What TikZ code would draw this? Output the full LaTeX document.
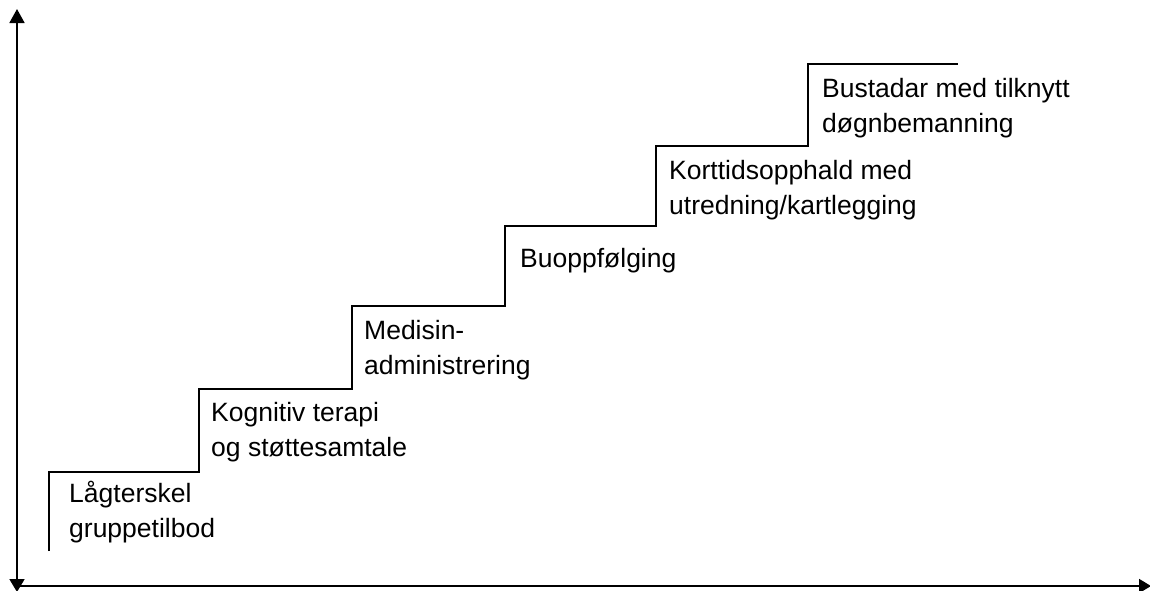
\documentclass[tikz,border=0pt]{standalone}
\usepackage{fontspec}
\setmainfont{Liberation Sans}
\usetikzlibrary{arrows.meta}
\begin{document}
\begin{tikzpicture}[x=1pt,y=-1pt,
  axis/.style={line width=1.8pt},
  stair/.style={line width=1.5pt, line join=miter},
  lbl/.style={anchor=base west, inner sep=0pt, align=left, font=\fontsize{26.5}{35}\selectfont}]
\useasboundingbox (0,0) rectangle (1150,590);
\coordinate (ytop) at (17,9);
\coordinate (ybot) at (17,592);
\coordinate (o) at (17,586);
\coordinate (xend) at (1151,586);
\draw[axis, {Triangle[width=15pt,length=14pt]}-{Triangle[width=15pt,length=13pt]}] (ytop) -- (ybot);
\draw[axis, -{Triangle[width=14pt,length=12pt]}] (o) -- (xend);
\draw[stair] (49,551) -- (49,472) -- (199,472) -- (199,389) -- (352,389)
  -- (352,306) -- (505,306) -- (505,226) -- (656,226) -- (656,146)
  -- (808,146) -- (808,64) -- (958,64);
\node[lbl] (s1) at (69,537) {Lågterskel\\gruppetilbod};
\node[lbl] (s2) at (211,456) {Kognitiv terapi\\og støttesamtale};
\node[lbl] (s3) at (364,374) {Medisin-\\administrering};
\node[lbl] (s4) at (520,267) {Buoppfølging};
\node[lbl] (s5) at (669,214) {Korttidsopphald med\\utredning/kartlegging};
\node[lbl] (s6) at (822,132) {Bustadar med tilknytt\\døgnbemanning};
\end{tikzpicture}
\end{document}
